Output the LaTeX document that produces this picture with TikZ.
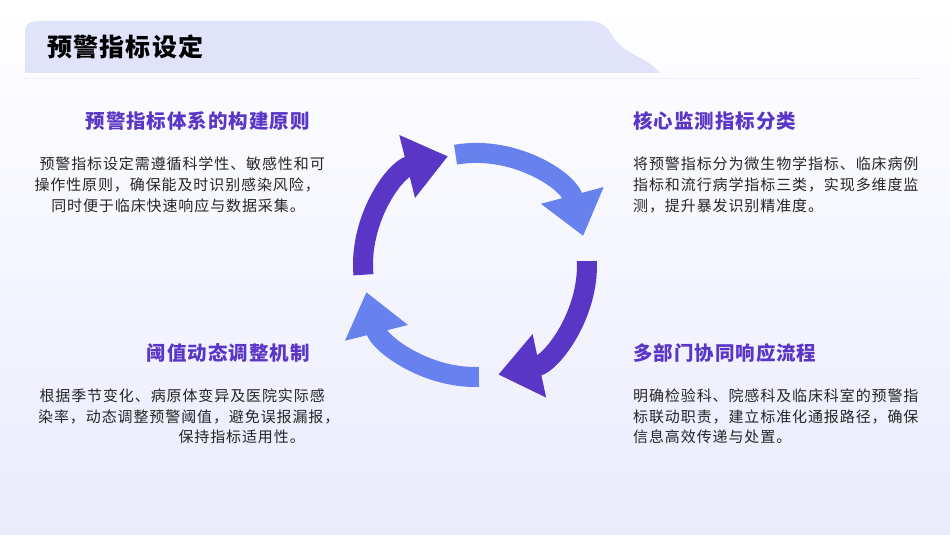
\documentclass[tikz,border=0pt]{standalone}
\usepackage{fontspec}
\setmainfont{Noto Sans CJK SC}
\usetikzlibrary{arrows.meta,positioning}
\definecolor{deep}{HTML}{5A36C6}
\definecolor{light}{HTML}{6781EE}
\definecolor{band}{HTML}{E1E3FB}
\begin{document}
\begin{tikzpicture}[x=1pt,y=1pt,
    head/.style={font=\bfseries\fontsize{19.5}{22}\selectfont\addfontfeature{LetterSpace=5},text=deep,inner sep=0pt},
    body/.style={font=\fontsize{15}{17}\selectfont\addfontfeature{LetterSpace=6},text=black!85,inner sep=0pt},
    loop arrow/.style={line width=20pt,-{Triangle[width=62pt,length=42pt]}}]
  \useasboundingbox (0,0) rectangle (950,535);
  \shade[top color=white,bottom color=band!70] (0,0) rectangle (950,535);
  % title band
  \fill[band] (25,462) -- (25,505) to[out=90,in=180] (38,514) -- (590,514)
    to[out=0,in=120] (612,500) to[out=-60,in=130] (660,462) -- cycle;
  \draw[band!60,line width=1pt] (24,456) -- (922,456);
  \node[font=\bfseries\fontsize{25}{28}\selectfont\addfontfeature{LetterSpace=5},anchor=west,inner sep=0pt] (title) at (47,488) {预警指标设定};
  % cycle of arrows
  \coordinate (o) at (475,270);
  \draw[loop arrow,light] ([shift={(100:112)}]o) arc[start angle=100,end angle=15,radius=112];
  \draw[loop arrow,deep] ([shift={(2:112)}]o) arc[start angle=2,end angle=-78,radius=112];
  \draw[loop arrow,light] ([shift={(-88:112)}]o) arc[start angle=-88,end angle=-166,radius=112];
  \draw[loop arrow,deep] ([shift={(-175:112)}]o) arc[start angle=-175,end angle=-256,radius=112];
  % top left
  \node[head,anchor=east] (h1) at (310,414) {预警指标体系的构建原则};
  \node[body,anchor=east] (a1) at (325,371) {预警指标设定需遵循科学性、敏感性和可};
  \node[body,anchor=east] (a2) at (320,350) {操作性原则，确保能及时识别感染风险，};
  \node[body,anchor=east] (a3) at (305,329) {同时便于临床快速响应与数据采集。};
  % top right
  \node[head,anchor=west] (h2) at (633,414) {核心监测指标分类};
  \node[body,anchor=west] (b1) at (633,371) {将预警指标分为微生物学指标、临床病例};
  \node[body,anchor=west] (b2) at (633,350) {指标和流行病学指标三类，实现多维度监};
  \node[body,anchor=west] (b3) at (633,329) {测，提升暴发识别精准度。};
  % bottom left
  \node[head,anchor=east] (h3) at (310,182) {阈值动态调整机制};
  \node[body,anchor=east] (c1) at (325,139) {根据季节变化、病原体变异及医院实际感};
  \node[body,anchor=west] (c2) at (38,118) {染率，动态调整预警阈值，避免误报漏报，};
  \node[body,anchor=east] (c3) at (305,98) {保持指标适用性。};
  % bottom right
  \node[head,anchor=west] (h4) at (633,182) {多部门协同响应流程};
  \node[body,anchor=west] (d1) at (633,139) {明确检验科、院感科及临床科室的预警指};
  \node[body,anchor=west] (d2) at (633,118) {标联动职责，建立标准化通报路径，确保};
  \node[body,anchor=west] (d3) at (633,98) {信息高效传递与处置。};
\end{tikzpicture}
\end{document}
